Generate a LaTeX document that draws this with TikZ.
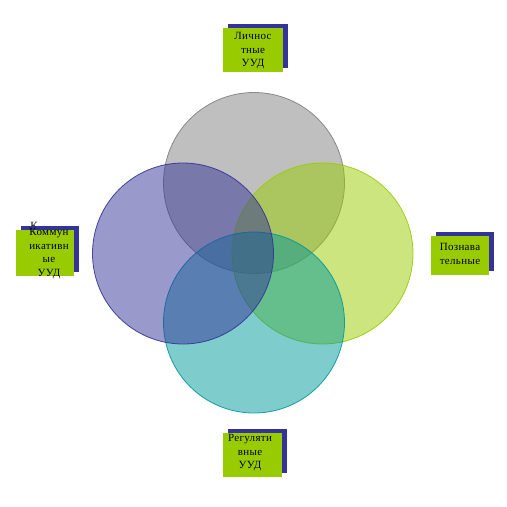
\documentclass[tikz,border=0pt]{standalone}
\usepackage{fontspec}
\setmainfont{Liberation Serif}[LetterSpace=3]
\usetikzlibrary{shadows}
\definecolor{cgray}{RGB}{128,128,128}
\definecolor{cblue}{RGB}{51,51,153}
\definecolor{cgreen}{RGB}{153,204,0}
\definecolor{cteal}{RGB}{0,153,153}
\definecolor{boxgreen}{RGB}{153,204,0}
\definecolor{shadowblue}{RGB}{51,51,153}
\begin{document}
\begin{tikzpicture}[x=1pt,y=-1pt,
  venn/.style={circle,minimum size=181pt,inner sep=0pt,line width=0.8pt,fill opacity=0.5,draw opacity=0.9},
  labelbox/.style={rectangle,fill=boxgreen,inner sep=0pt,
     drop shadow={shadow xshift=4.5pt,shadow yshift=4pt,fill=shadowblue,opacity=1}},
  labeltext/.style={align=center,inner sep=0pt,font=\fontsize{11}{13.5}\selectfont,text=black}]
\useasboundingbox (0,0) rectangle (507,507);
% circles
\node[venn,draw=cgray,fill=cgray] (top) at (254,183) {};
\node[venn,draw=cgreen,fill=cgreen] (right) at (322.5,253.5) {};
\node[venn,draw=cteal,fill=cteal] (bottom) at (254,322.5) {};
\node[venn,draw=cblue,fill=cblue] (left) at (183,253.5) {};
% labels
\node[labelbox,minimum width=60pt,minimum height=44pt] (ltop) at (253,50) {};
\node[labeltext] (ttop) at (253,51) {Личнос\\тные\\УУД};
\node[inner sep=0pt,anchor=north,font=\fontsize{11}{13}\selectfont] (kpeek) at (34,222) {К};
\node[labelbox,minimum width=58pt,minimum height=46pt] (lleft) at (45,253) {};
\node[labeltext] (tleft) at (49,253.5) {Коммун\\икативн\\ые\\УУД};
\node[labelbox,minimum width=58pt,minimum height=39pt] (lright) at (460,255.5) {};
\node[labeltext] (tright) at (460,254) {Познава\\тельные};
\node[labelbox,minimum width=59pt,minimum height=44pt] (lbottom) at (252.5,455) {};
\node[labeltext] (tbottom) at (250,453) {Регуляти\\вные\\УУД};
\end{tikzpicture}
\end{document}
